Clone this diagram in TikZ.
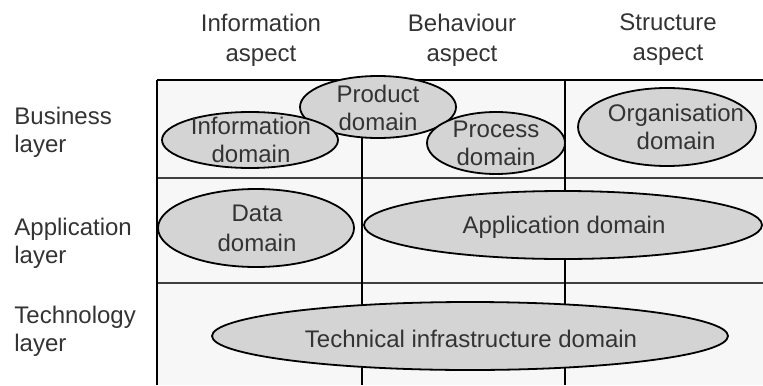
\documentclass[tikz,border=0pt]{standalone}
\usepackage{fontspec}
\setmainfont{Liberation Sans}
\usepackage{tikz}

\definecolor{gridbg}{gray}{0.97}
\definecolor{domfill}{gray}{0.83}
\definecolor{inktext}{gray}{0.2}

\begin{document}
\begin{tikzpicture}[x=0.5pt,y=-0.5pt,
  lbl/.style={text=inktext,font=\fontsize{12}{14}\selectfont,inner sep=0pt,align=center},
  rowlbl/.style={lbl,align=left,anchor=west},
  domoval/.style={draw=black,line width=0.9pt,fill=domfill},
  gridline/.style={draw=black!75,line width=0.6pt}]
\useasboundingbox (0,0) rectangle (763,385);
% objects at depth 100:
\path[fill=gridbg] (157,80) rectangle (763,385);
% objects at depth 75:
\draw[gridline] (157,178) -- (763,178);
\draw[gridline] (157,283) -- (763,283);
\draw[black,line width=0.7pt] (362,80) -- (362,385);
\draw[black,line width=0.7pt] (157,80) -- (157,385);
\draw[black,line width=1pt] (157,80) -- (763,80);
\draw[black,line width=1.1pt] (565,80) -- (565,385);
% objects at depth 50:
\path[domoval] (378,107) ellipse [x radius=78,y radius=31];
\path[domoval] (250,140) ellipse [x radius=88,y radius=28];
\path[domoval] (496,143) ellipse [x radius=69,y radius=31];
\path[domoval] (667,127) ellipse [x radius=89,y radius=39];
\path[domoval] (256,228) ellipse [x radius=98,y radius=39];
\path[domoval] (563,225) ellipse [x radius=199,y radius=34];
\path[domoval] (470,336) ellipse [x radius=258,y radius=34];
% objects at depth 25:
\node[lbl,font=\fontsize{12}{15}\selectfont] (infoaspect) at (261,40) {Information\\aspect};
\node[lbl,font=\fontsize{12}{15}\selectfont] (behaspect) at (462,40) {Behaviour\\aspect};
\node[lbl,font=\fontsize{12}{15}\selectfont] (structaspect) at (668,40) {Structure\\aspect};
\node[rowlbl] (busilayer) at (14,132) {Business\\layer};
\node[rowlbl] (applayer) at (14,243) {Application\\layer};
\node[rowlbl] (techlayer) at (14,331) {Technology\\layer};
\node[lbl] (productdom) at (378,108) {Product\\domain};
\node[lbl] (infodom) at (251,140) {Information\\domain};
\node[lbl] (processdom) at (496,143) {Process\\domain};
\node[lbl] (orgdom) at (676,127) {Organisation\\domain};
\node[lbl,font=\fontsize{12}{15}\selectfont] (datadom) at (257,228) {Data\\domain};
\node[lbl] (appdom) at (564,227) {Application domain};
\node[lbl] (techdom) at (471,339) {Technical infrastructure domain};
\end{tikzpicture}
\end{document}
